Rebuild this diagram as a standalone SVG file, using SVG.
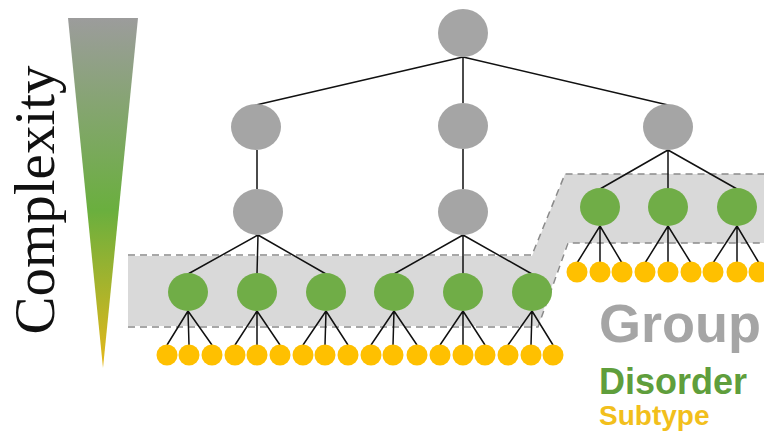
<svg xmlns="http://www.w3.org/2000/svg" width="764" height="436" viewBox="0 0 764 436">
<style>
.gray{fill:#a5a5a5}
.grn{fill:#70ad47}
.yel{fill:#ffc000}
.ln{stroke:#111;stroke-width:1.5;fill:none}
.dash{stroke:#8a8a8a;stroke-width:1.5;fill:none;stroke-dasharray:7 5}
.lbl{font-family:"Liberation Sans",Arial,sans-serif;font-weight:bold}
</style>
<defs>
<linearGradient id="cg" x1="0" y1="0" x2="0" y2="1">
<stop offset="0" stop-color="#9c9c9c"/>
<stop offset="0.55" stop-color="#6aaf3e"/>
<stop offset="1" stop-color="#e6b81a"/>
</linearGradient>
</defs>
<rect width="764" height="436" fill="#fff"/>
<g id="complexity">
<polygon points="68,18 138,18 103,368" fill="url(#cg)"/>
<text transform="translate(54,200) rotate(-90)" text-anchor="middle" font-family="'Liberation Serif','Times New Roman',serif" font-size="57" fill="#111">Complexity</text>
</g>
<g id="bands">
<polygon points="128,256 532,256 565,174 764,174 764,243 567,243 538,326 128,326" fill="#d9d9d9"/>
<polyline class="dash" points="128,255 532,255 565,174 764,174"/>
<polyline class="dash" points="128,327 538,327 568,243 764,243"/>
</g>
<g id="connectors" class="ln">
<path d="M463,57 L256,105 M463,57 L463,103 M463,57 L668,105"/>
<path d="M257,150 L257,189 M463,149 L463,189"/>
<path d="M258,235 L188,274 M258,235 L257,274 M258,235 L326,274"/>
<path d="M463,235 L394,274 M463,235 L463,274 M463,235 L532,274"/>
<path d="M668,150 L600,189 M668,150 L668,189 M668,150 L737,189"/>
<path d="M188,311 L167,345 M188,311 L189,345 M188,311 L212,345"/>
<path d="M257,311 L235,345 M257,311 L257,345 M257,311 L280,345"/>
<path d="M326,311 L303,345 M326,311 L325,345 M326,311 L348,345"/>
<path d="M394,311 L371,345 M394,311 L393,345 M394,311 L417,345"/>
<path d="M463,311 L440,345 M463,311 L463,345 M463,311 L485,345"/>
<path d="M532,311 L508,345 M532,311 L531,345 M532,311 L553,345"/>
<path d="M600,226 L577,263 M600,226 L600,263 M600,226 L622,263"/>
<path d="M668,226 L645,263 M668,226 L668,263 M668,226 L691,263"/>
<path d="M737,226 L713,263 M737,226 L737,263 M737,226 L759,263"/>
</g>
<g id="groups" class="gray">
<g id="g-root"><ellipse cx="463" cy="33" rx="25" ry="24"/></g>
<g id="g-l2a"><ellipse cx="256" cy="127" rx="25" ry="23"/></g>
<g id="g-l2b"><ellipse cx="463" cy="126" rx="25" ry="23"/></g>
<g id="g-l2c"><ellipse cx="668" cy="127" rx="25" ry="23"/></g>
<g id="g-l3a"><ellipse cx="258" cy="212" rx="25" ry="23"/></g>
<g id="g-l3b"><ellipse cx="463" cy="212" rx="25" ry="23"/></g>
</g>
<g id="disorders" class="grn">
<g id="d1"><ellipse cx="188" cy="292" rx="20" ry="19"/></g>
<g id="d2"><ellipse cx="257" cy="292" rx="20" ry="19"/></g>
<g id="d3"><ellipse cx="326" cy="292" rx="20" ry="19"/></g>
<g id="d4"><ellipse cx="394" cy="292" rx="20" ry="19"/></g>
<g id="d5"><ellipse cx="463" cy="292" rx="20" ry="19"/></g>
<g id="d6"><ellipse cx="532" cy="292" rx="20" ry="19"/></g>
<g id="d7"><ellipse cx="600" cy="207" rx="20" ry="19"/></g>
<g id="d8"><ellipse cx="668" cy="207" rx="20" ry="19"/></g>
<g id="d9"><ellipse cx="737" cy="207" rx="20" ry="19"/></g>
</g>
<g id="subtypes" class="yel">
<g id="s-row1">
<circle cx="167" cy="355" r="10.5"/><circle cx="189" cy="355" r="10.5"/><circle cx="212" cy="355" r="10.5"/>
<circle cx="235" cy="355" r="10.5"/><circle cx="257" cy="355" r="10.5"/><circle cx="280" cy="355" r="10.5"/>
<circle cx="303" cy="355" r="10.5"/><circle cx="325" cy="355" r="10.5"/><circle cx="348" cy="355" r="10.5"/>
<circle cx="371" cy="355" r="10.5"/><circle cx="393" cy="355" r="10.5"/><circle cx="417" cy="355" r="10.5"/>
<circle cx="440" cy="355" r="10.5"/><circle cx="463" cy="355" r="10.5"/><circle cx="485" cy="355" r="10.5"/>
<circle cx="508" cy="355" r="10.5"/><circle cx="531" cy="355" r="10.5"/><circle cx="553" cy="355" r="10.5"/>
</g>
<g id="s-row2">
<circle cx="577" cy="272" r="10.5"/><circle cx="600" cy="272" r="10.5"/><circle cx="622" cy="272" r="10.5"/>
<circle cx="645" cy="272" r="10.5"/><circle cx="668" cy="272" r="10.5"/><circle cx="691" cy="272" r="10.5"/>
<circle cx="713" cy="272" r="10.5"/><circle cx="737" cy="272" r="10.5"/><circle cx="759" cy="272" r="10.5"/>
</g>
</g>
<g id="legend">
<text class="lbl" x="599" y="342" font-size="54" fill="#a5a5a5">Group</text>
<text class="lbl" x="599" y="394" font-size="36" fill="#5f9e3c">Disorder</text>
<text class="lbl" x="599" y="425" font-size="28" fill="#f2bf1c">Subtype</text>
</g>
</svg>
